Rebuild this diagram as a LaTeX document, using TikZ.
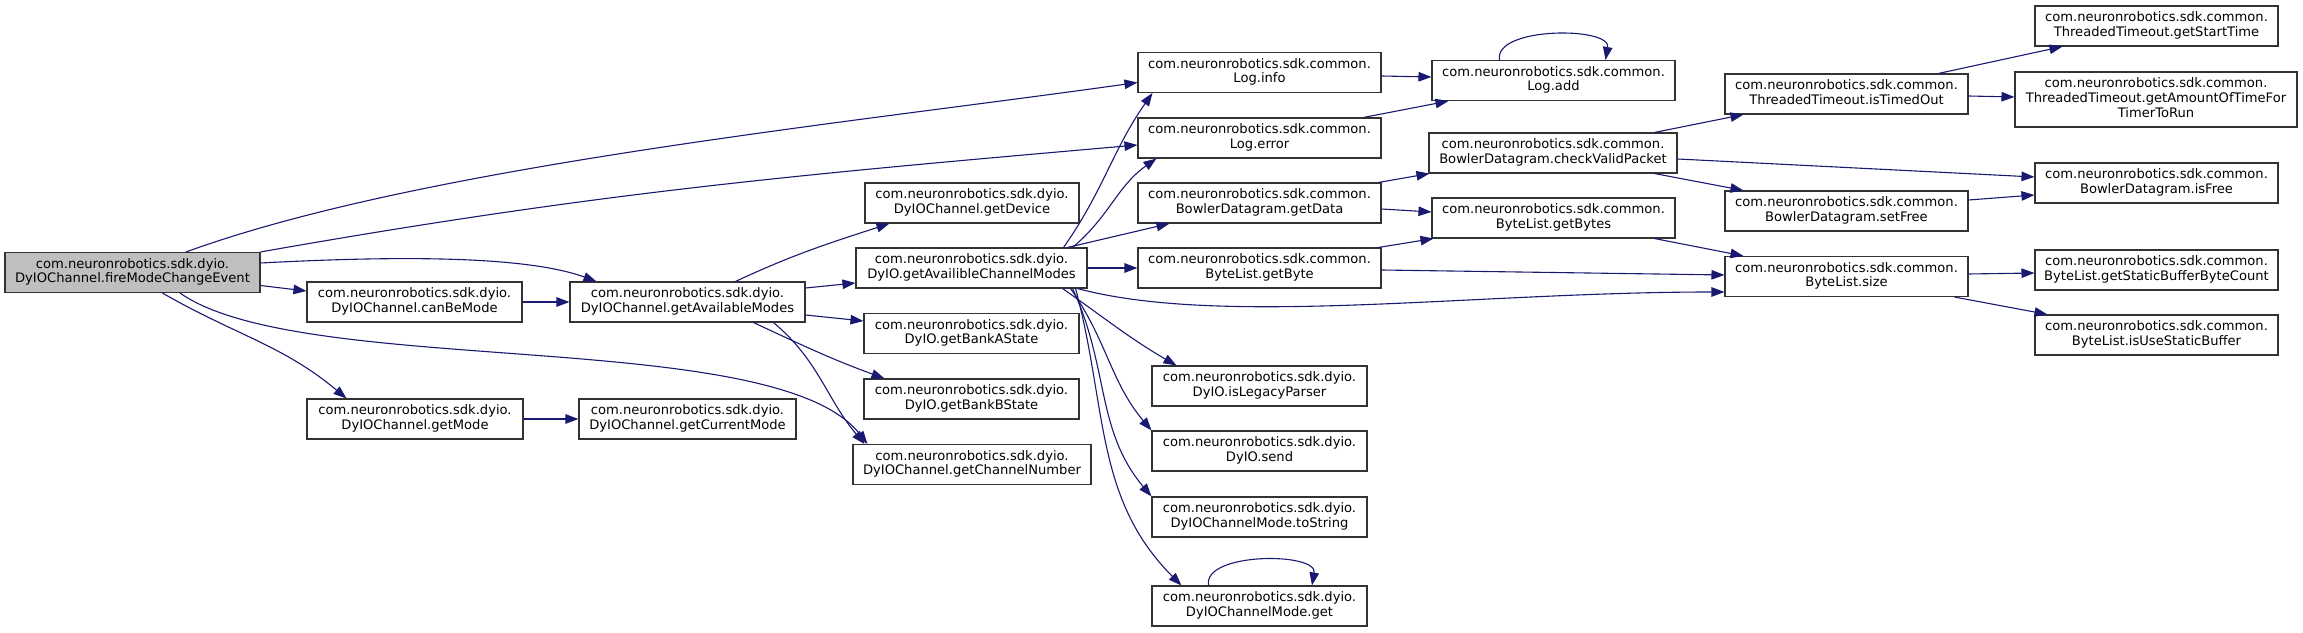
\documentclass[tikz,border=0pt]{standalone}
\usepackage{fontspec}
\setmainfont{DejaVu Sans}
\usetikzlibrary{arrows.meta}
\definecolor{edgeblue}{HTML}{191970}
\definecolor{rootgray}{HTML}{BFBFBF}

\begin{document}
\begin{tikzpicture}[x=1pt, y=1pt, >={Triangle[length=13pt, width=9.5pt]},
    call/.style={draw=black!80, line width=1.1pt, rectangle, inner sep=0pt,
      minimum height=40pt, font=\fontsize{13.1}{14.7}\selectfont},
    root/.style={call, fill=rootgray}]
  \useasboundingbox (0,0) rectangle (2303,632);
  \node[root, minimum width=255pt] (0) at (132.5,359.5) {
    \begin{tabular}{c} com.neuronrobotics.sdk.dyio. \\
      DyIOChannel.fireModeChangeEvent
    \end{tabular}};
  \node[call, minimum width=215pt] (1) at (414.5,330) {
    \begin{tabular}{c} com.neuronrobotics.sdk.dyio. \\
      DyIOChannel.canBeMode
    \end{tabular}};
  \node[call, minimum width=216pt] (2) at (415,213) {
    \begin{tabular}{c} com.neuronrobotics.sdk.dyio. \\
      DyIOChannel.getMode
    \end{tabular}};
  \node[call, minimum width=217pt] (3) at (687.5,213) {
    \begin{tabular}{c} com.neuronrobotics.sdk.dyio. \\
      DyIOChannel.getCurrentMode
    \end{tabular}};
  \node[call, minimum width=235pt] (4) at (687.5,330) {
    \begin{tabular}{c} com.neuronrobotics.sdk.dyio. \\
      DyIOChannel.getAvailableModes
    \end{tabular}};
  \node[call, minimum width=238pt] (5) at (972,167.5) {
    \begin{tabular}{c} com.neuronrobotics.sdk.dyio. \\
      DyIOChannel.getChannelNumber
    \end{tabular}};
  \node[call, minimum width=214pt] (6) at (972,429) {
    \begin{tabular}{c} com.neuronrobotics.sdk.dyio. \\
      DyIOChannel.getDevice
    \end{tabular}};
  \node[call, minimum width=231pt] (7) at (971.5,364) {
    \begin{tabular}{c} com.neuronrobotics.sdk.dyio. \\
      DyIO.getAvailibleChannelModes
    \end{tabular}};
  \node[call, minimum width=215pt] (8) at (971.5,298.5) {
    \begin{tabular}{c} com.neuronrobotics.sdk.dyio. \\
      DyIO.getBankAState
    \end{tabular}};
  \node[call, minimum width=215pt] (9) at (971.5,233) {
    \begin{tabular}{c} com.neuronrobotics.sdk.dyio. \\
      DyIO.getBankBState
    \end{tabular}};
  \node[call, minimum width=243pt] (10) at (1259.5,559.5) {
    \begin{tabular}{c} com.neuronrobotics.sdk.common. \\
      Log.info
    \end{tabular}};
  \node[call, minimum width=243pt] (11) at (1259.5,494) {
    \begin{tabular}{c} com.neuronrobotics.sdk.common. \\
      Log.error
    \end{tabular}};
  \node[call, minimum width=243pt] (12) at (1259.5,429) {
    \begin{tabular}{c} com.neuronrobotics.sdk.common. \\
      BowlerDatagram.getData
    \end{tabular}};
  \node[call, minimum width=243pt] (13) at (1259.5,364) {
    \begin{tabular}{c} com.neuronrobotics.sdk.common. \\
      ByteList.getByte
    \end{tabular}};
  \node[call, minimum width=215pt] (14) at (1259.5,246) {
    \begin{tabular}{c} com.neuronrobotics.sdk.dyio. \\
      DyIO.isLegacyParser
    \end{tabular}};
  \node[call, minimum width=215pt] (15) at (1259.5,181) {
    \begin{tabular}{c} com.neuronrobotics.sdk.dyio. \\
      DyIO.send
    \end{tabular}};
  \node[call, minimum width=215pt] (16) at (1259.5,115) {
    \begin{tabular}{c} com.neuronrobotics.sdk.dyio. \\
      DyIOChannelMode.toString
    \end{tabular}};
  \node[call, minimum width=215pt] (17) at (1259.5,26) {
    \begin{tabular}{c} com.neuronrobotics.sdk.dyio. \\
      DyIOChannelMode.get
    \end{tabular}};
  \node[call, minimum width=243pt] (18) at (1553.5,551.5) {
    \begin{tabular}{c} com.neuronrobotics.sdk.common. \\
      Log.add
    \end{tabular}};
  \node[call, minimum width=248pt] (19) at (1553,479) {
    \begin{tabular}{c} com.neuronrobotics.sdk.common. \\
      BowlerDatagram.checkValidPacket
    \end{tabular}};
  \node[call, minimum width=243pt] (20) at (1553.5,414) {
    \begin{tabular}{c} com.neuronrobotics.sdk.common. \\
      ByteList.getBytes
    \end{tabular}};
  \node[call, minimum width=243pt] (21) at (1846.5,538) {
    \begin{tabular}{c} com.neuronrobotics.sdk.common. \\
      ThreadedTimeout.isTimedOut
    \end{tabular}};
  \node[call, minimum width=243pt] (22) at (1846.5,421) {
    \begin{tabular}{c} com.neuronrobotics.sdk.common. \\
      BowlerDatagram.setFree
    \end{tabular}};
  \node[call, minimum width=243pt] (23) at (1846.5,355.5) {
    \begin{tabular}{c} com.neuronrobotics.sdk.common. \\
      ByteList.size
    \end{tabular}};
  \node[call, minimum width=243pt] (24) at (2156.5,606) {
    \begin{tabular}{c} com.neuronrobotics.sdk.common. \\
      ThreadedTimeout.getStartTime
    \end{tabular}};
  \node[call, minimum width=282pt, minimum height=55pt] (25) at (2156,532.5) {
    \begin{tabular}{c} com.neuronrobotics.sdk.common. \\
      ThreadedTimeout.getAmountOfTimeFor \\
      TimerToRun
    \end{tabular}};
  \node[call, minimum width=243pt] (26) at (2156.5,449) {
    \begin{tabular}{c} com.neuronrobotics.sdk.common. \\
      BowlerDatagram.isFree
    \end{tabular}};
  \node[call, minimum width=243pt] (27) at (2156.5,362) {
    \begin{tabular}{c} com.neuronrobotics.sdk.common. \\
      ByteList.getStaticBufferByteCount
    \end{tabular}};
  \node[call, minimum width=243pt] (28) at (2156.5,297) {
    \begin{tabular}{c} com.neuronrobotics.sdk.common. \\
      ByteList.isUseStaticBuffer
    \end{tabular}};
  \path[->, edgeblue, line width=1.1pt]
    (0.21) edge [out=20, in=188, out distance=250pt, in distance=300pt] ([yshift=-10pt]10.west)
    (0.north east) edge [out=10, in=185] ([yshift=-7pt]11.west)
    ([yshift=9.5pt]0.east) edge [out=3, in=160, out distance=120pt, in distance=80pt] ([xshift=27pt]4.north west)
    ([yshift=-13pt]0.east) edge ([yshift=11pt]1.west)
    ([xshift=30pt]0.south) edge [out=-30, in=140] ([xshift=40pt]2.north west)
    ([xshift=47.5pt]0.south) edge [out=-35, in=128, out distance=150pt, in distance=150pt] ([xshift=15pt]5.north west)
    (1) edge (4)
    (2) edge (3)
    ([xshift=48pt]4.north) edge [out=25, in=198] ([xshift=25pt]6.south west)
    ([yshift=14pt]4.east) edge ([yshift=-15pt]7.west)
    ([yshift=-13pt]4.east) edge ([yshift=12.5pt]8.west)
    ([xshift=66pt]4.south) edge [out=-25, in=160] ([xshift=21pt]9.north west)
    ([xshift=86pt]4.south) edge [out=-40, in=130] ([xshift=12pt]5.north west)
    ([xshift=-24pt]7.north east) edge [out=55, in=-125, distance=70pt] ([xshift=15pt]10.south west)
    ([xshift=-15pt]7.north east) edge [out=40, in=-145] ([xshift=19pt]11.south west)
    ([xshift=-20pt]7.north east) edge ([xshift=32pt]12.south west)
    (7) edge (13)
    ([xshift=-10pt]7.south east) edge [out=-15, in=180, out distance=150pt, in distance=250pt] ([yshift=-15.5pt]23.west)
    ([xshift=-25pt]7.south east) edge [out=-35, in=150] ([xshift=25pt]14.north west)
    ([xshift=-17pt]7.south east) edge [out=-55, in=130] (15.north west)
    ([xshift=-15pt]7.south east) edge [out=-65, in=130] (16.north west)
    ([xshift=-12pt]7.south east) edge [out=-75, in=135] ([xshift=30pt]17.north west)
    ([xshift=-51pt]17.north) edge [out=100, in=80, distance=34pt] ([xshift=52.5pt]17.north)
    ([yshift=-3.5pt]10.east) edge ([yshift=3.5pt]18.west)
    ([xshift=-18pt]11.north east) edge ([xshift=17pt]18.south west)
    ([xshift=-54pt]18.north) edge [out=100, in=80, distance=34pt] ([xshift=52pt]18.north)
    ([xshift=-3pt]12.north east) edge ([xshift=1pt]19.south west)
    ([yshift=-6pt]12.east) edge ([yshift=6pt]20.west)
    ([xshift=-3pt]13.north east) edge ([xshift=2pt]20.south west)
    ([yshift=-2pt]13.east) edge ([yshift=1.5pt]23.west)
    ([xshift=-23pt]19.north east) edge ([xshift=19pt]21.south west)
    ([yshift=-6pt]19.east) edge ([yshift=6pt]26.west)
    ([xshift=-23pt]19.south east) edge ([xshift=19pt]22.north west)
    ([xshift=-21pt]20.south east) edge ([xshift=19pt]23.north west)
    ([xshift=-30pt]21.north east) edge ([xshift=28pt]24.south west)
    ([yshift=-2pt]21.east) edge ([yshift=2.5pt]25.west)
    ([yshift=11pt]22.east) edge ([yshift=-12pt]26.west)
    ([yshift=2.5pt]23.east) edge ([yshift=-3pt]27.west)
    ([xshift=-14pt]23.south east) edge ([xshift=13pt]28.north west);
\end{tikzpicture}
\end{document}
